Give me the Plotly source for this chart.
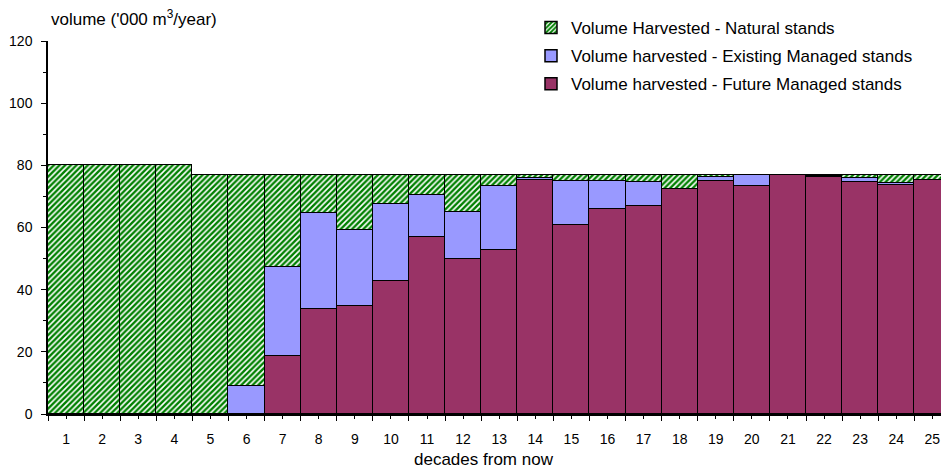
import plotly.graph_objects as go

decades = list(range(1, 26))
tick_labels = [str(d) for d in decades]

future_managed = [0, 0, 0, 0, 0, 0, 18.7, 33.7, 34.7, 42.9, 56.9, 49.8, 52.8,
                  75.2, 60.9, 65.9, 66.9, 72.3, 75.1, 73.4, 77.0, 76.3, 74.7, 73.8, 75.3]
existing_managed = [0, 0, 0, 0, 0, 9.0, 28.6, 31.1, 24.4, 24.6, 13.6, 15.3, 20.6,
                    0.7, 14.2, 9.2, 7.8, 0, 1.1, 3.5, 0, 0.3, 1.2, 0.6, 0]
natural = [80, 80, 80, 80, 77, 68.0, 29.7, 12.2, 17.9, 9.5, 6.5, 11.9, 3.6,
           1.1, 1.9, 1.9, 2.3, 4.7, 0.8, 0.1, 0, 0.4, 1.1, 2.6, 1.7]

FONT = "Liberation Sans, Arial, sans-serif"
W, H = 941, 470
ML, MR, MT, MB = 48.3, 0, 40.7, H - 413.7

fig = go.Figure()
fig.add_trace(go.Bar(
    x=decades, y=future_managed, name="Volume harvested - Future Managed stands",
    marker=dict(color="#993366", line=dict(color="black", width=1.5)),
    legendrank=3, legendgroup="c"))
fig.add_trace(go.Bar(
    x=decades, y=existing_managed, name="Volume harvested - Existing Managed stands",
    marker=dict(color="#9999FF", line=dict(color="black", width=1.5)),
    legendrank=2, legendgroup="b"))
fig.add_trace(go.Bar(
    x=decades, y=natural, name="Volume Harvested - Natural stands",
    marker=dict(color="white", line=dict(color="black", width=1.5),
                pattern=dict(shape="/", fgcolor="#008000", bgcolor="white",
                             size=4, solidity=0.6, fillmode="replace")),
    legendrank=1, legendgroup="a"))

pw = W - ML - MR
ph = H - MT - MB

fig.update_layout(
    width=W, height=H,
    barmode="stack", bargap=0,
    plot_bgcolor="white", paper_bgcolor="white",
    margin=dict(l=ML, r=MR, t=MT, b=MB, autoexpand=False),
    font=dict(family=FONT, size=14, color="black"),
    showlegend=True,
    legend=dict(xref="container", yref="container",
                x=531 / W, xanchor="left", y=1 - 10 / H, yanchor="top",
                bgcolor="rgba(0,0,0,0)", font=dict(size=17),
                traceorder="grouped", tracegroupgap=3),
    xaxis=dict(range=[0.5, 25.24], tickmode="array", tickvals=decades,
               ticktext=tick_labels, ticks="outside", ticklen=3, tickcolor="black",
               showline=True, linecolor="black", linewidth=1.5, showgrid=False,
               zeroline=False, tickfont=dict(size=14), ticklabelstandoff=8,
               automargin=False,
               minor=dict(tickmode="linear", tick0=0.5, dtick=1, ticks="outside",
                          ticklen=5, tickcolor="black", showgrid=False)),
    yaxis=dict(range=[0, 120], tickmode="linear", tick0=0, dtick=20,
               ticks="outside", ticklen=5, tickcolor="black",
               showline=True, linecolor="black", linewidth=1.5, showgrid=False,
               zeroline=False, tickfont=dict(size=14), ticklabelstandoff=6,
               automargin=False,
               minor=dict(tickmode="linear", tick0=0, dtick=10, ticks="outside",
                          ticklen=3, tickcolor="black", showgrid=False)),
    annotations=[
        dict(text="volume ('000 m<sup>3</sup>/year)",
             x=(49 - ML) / pw, y=(H - MB - 18) / ph,
             xref="paper", yref="paper", showarrow=False, font=dict(size=17),
             xanchor="left", yanchor="middle"),
        dict(text="decades from now",
             x=(484 - ML) / pw, y=(H - MB - 459) / ph,
             xref="paper", yref="paper", showarrow=False, font=dict(size=17),
             xanchor="center", yanchor="middle"),
    ],
)

fig.write_html(
    "out.html",
    config={"displayModeBar": False},
    post_script="document.body.style.margin='0';document.body.style.overflow='hidden';",
)
